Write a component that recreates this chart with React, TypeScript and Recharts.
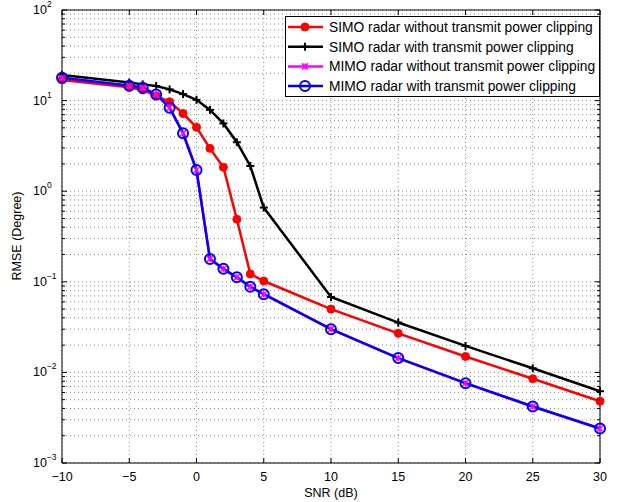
import React from 'react';
import { LineChart, Line, XAxis, YAxis, CartesianGrid, ReferenceLine } from 'recharts';

const snr = [-10, -5, -4, -3, -2, -1, 0, 1, 2, 3, 4, 5, 10, 15, 20, 25, 30];

const simoNoClip = [16.9, 14.0, 13.1, 11.3, 9.7, 7.2, 5.07, 2.97, 1.84, 0.49, 0.122, 0.102, 0.05, 0.027, 0.015, 0.0085, 0.0048];
const simoClip = [19.2, 15.8, 15.1, 14.5, 13.3, 11.8, 10.2, 7.9, 5.6, 3.47, 1.9, 0.66, 0.068, 0.0355, 0.0196, 0.0111, 0.0062];
const mimoNoClip = [17.9, 14.6, 13.9, 11.7, 8.35, 4.36, 1.71, 0.179, 0.139, 0.112, 0.088, 0.073, 0.03, 0.0144, 0.0076, 0.0042, 0.0024];
const mimoClip = [17.9, 14.6, 13.9, 11.7, 8.35, 4.36, 1.71, 0.179, 0.139, 0.112, 0.088, 0.073, 0.03, 0.0144, 0.0076, 0.0042, 0.0024];

const xTicks = [-10, -5, 0, 5, 10, 15, 20, 25, 30];
const yMajor = [0.001, 0.01, 0.1, 1, 10, 100];
const yExp = ['\u22123', '\u22122', '\u22121', '0', '1', '2'];

const legendLabels = [
  'SIMO radar without transmit power clipping',
  'SIMO radar with transmit power clipping',
  'MIMO radar without transmit power clipping',
  'MIMO radar with transmit power clipping',
];

const yTicks: number[] = [];
yMajor.forEach((m, i) => {
  yTicks.push(m);
  if (i < yMajor.length - 1) {
    for (let k = 2; k <= 9; k++) yTicks.push(+(m * k).toPrecision(3));
  }
});

const data = snr.map((s, i) => ({
  snr: s,
  simoNoClip: simoNoClip[i],
  simoClip: simoClip[i],
  mimoNoClip: mimoNoClip[i],
  mimoClip: mimoClip[i],
}));

const FONT = '"Liberation Sans", Arial, Helvetica, sans-serif';
const PLOT = { left: 62, right: 600, top: 10, bottom: 463 };

const XTick = (props: any) => {
  const { x, payload } = props;
  const v = payload.value;
  const label = v < 0 ? '\u2212' + Math.abs(v) : String(v);
  return (
    <g>
      <line x1={x} x2={x} y1={PLOT.bottom} y2={PLOT.bottom - 5} stroke="#000" />
      <line x1={x} x2={x} y1={PLOT.top} y2={PLOT.top + 5} stroke="#000" />
      <text x={x} y={PLOT.bottom + 18} textAnchor="middle" fontSize={12.5} fontFamily={FONT} fill="#000">
        {label}
      </text>
    </g>
  );
};

const YTick = (props: any) => {
  const { y, payload } = props;
  const idx = yMajor.findIndex((m) => Math.abs(m - payload.value) < m * 1e-6);
  const len = idx >= 0 ? 5 : 3;
  return (
    <g>
      <line x1={PLOT.left} x2={PLOT.left + len} y1={y} y2={y} stroke="#000" />
      <line x1={PLOT.right} x2={PLOT.right - len} y1={y} y2={y} stroke="#000" />
      {idx >= 0 && (
        <text x={33} y={y + 4} textAnchor="start" fontSize={12.5} fontFamily={FONT} fill="#000">
          10
          <tspan dy={-7} fontSize={8.5}>
            {yExp[idx]}
          </tspan>
        </text>
      )}
    </g>
  );
};

const RedDot = (p: any) => <circle key={p.index} cx={p.cx} cy={p.cy} r={4} fill="#ff0000" stroke="#ff0000" />;

const PlusDot = (p: any) => (
  <g key={p.index}>
    <line x1={p.cx - 4} x2={p.cx + 4} y1={p.cy} y2={p.cy} stroke="#000" strokeWidth={2} />
    <line x1={p.cx} x2={p.cx} y1={p.cy - 4} y2={p.cy + 4} stroke="#000" strokeWidth={2} />
  </g>
);

const StarDot = (p: any) => (
  <g key={p.index}>
    <line x1={p.cx - 3} x2={p.cx + 3} y1={p.cy - 3} y2={p.cy + 3} stroke="#ff00ff" strokeWidth={1.5} />
    <line x1={p.cx - 3} x2={p.cx + 3} y1={p.cy + 3} y2={p.cy - 3} stroke="#ff00ff" strokeWidth={1.5} />
    <line x1={p.cx} x2={p.cx} y1={p.cy - 3} y2={p.cy + 3} stroke="#ff00ff" strokeWidth={1.5} />
  </g>
);

const CircleDot = (p: any) => (
  <circle key={p.index} cx={p.cx} cy={p.cy} r={5} fill="none" stroke="#0000ff" strokeWidth={2} />
);

const legendMarkers = [
  (cx: number, cy: number) => RedDot({ cx, cy, index: 'l0' }),
  (cx: number, cy: number) => PlusDot({ cx, cy, index: 'l1' }),
  (cx: number, cy: number) => StarDot({ cx, cy, index: 'l2' }),
  (cx: number, cy: number) => CircleDot({ cx, cy, index: 'l3' }),
];
const legendColors = ['#ff0000', '#000000', '#ff00ff', '#0000ff'];

const Legend = () => (
  <svg width={316} height={82} style={{ position: 'absolute', left: 285, top: 16 }}>
    <rect x={0.5} y={0.5} width={314} height={80} fill="#fff" stroke="#000" />
    {legendLabels.map((t, i) => {
      const cy = 11 + i * 19.7;
      return (
        <g key={t}>
          <line x1={3} x2={38} y1={cy} y2={cy} stroke={legendColors[i]} strokeWidth={2.5} />
          {legendMarkers[i](20, cy)}
          <text x={44} y={cy + 5} fontSize={13.8} fontFamily={FONT} fill="#000">
            {t}
          </text>
        </g>
      );
    })}
  </svg>
);

export default function App() {
  return (
    <div style={{ position: 'absolute', left: 0, top: 0, width: 621, height: 502, background: '#fff' }}>
      <LineChart width={621} height={502} data={data} margin={{ top: 10, right: 21, left: 0, bottom: 0 }}>
        <CartesianGrid stroke="#000" strokeOpacity={0.45} strokeDasharray="1 3" />
        <XAxis
          dataKey="snr"
          type="number"
          domain={[-10, 30]}
          ticks={xTicks}
          interval={0}
          height={39}
          tickLine={false}
          axisLine={{ stroke: '#000' }}
          tick={<XTick />}
        />
        <YAxis
          type="number"
          scale="log"
          domain={[0.001, 100]}
          allowDataOverflow
          ticks={yTicks}
          interval={0}
          width={62}
          tickLine={false}
          axisLine={{ stroke: '#000' }}
          tick={<YTick />}
        />
        <ReferenceLine y={100} stroke="#000" />
        <ReferenceLine x={30} stroke="#000" />
        <Line dataKey="simoNoClip" stroke="#ff0000" strokeWidth={2.5} dot={RedDot} isAnimationActive={false} />
        <Line dataKey="simoClip" stroke="#000000" strokeWidth={2.5} dot={PlusDot} isAnimationActive={false} />
        <Line dataKey="mimoNoClip" stroke="#ff00ff" strokeWidth={2.5} dot={StarDot} isAnimationActive={false} />
        <Line dataKey="mimoClip" stroke="#0000ff" strokeWidth={2.5} dot={CircleDot} isAnimationActive={false} />
      </LineChart>
      <svg width={621} height={502} style={{ position: 'absolute', left: 0, top: 0, pointerEvents: 'none' }}>
        <text x={331} y={497} textAnchor="middle" fontSize={12.5} fontFamily={FONT} fill="#000">
          SNR (dB)
        </text>
        <text
          x={21}
          y={236}
          textAnchor="middle"
          fontSize={12.5}
          fontFamily={FONT}
          fill="#000"
          transform="rotate(-90 21 236)"
        >
          RMSE (Degree)
        </text>
      </svg>
      <Legend />
    </div>
  );
}
